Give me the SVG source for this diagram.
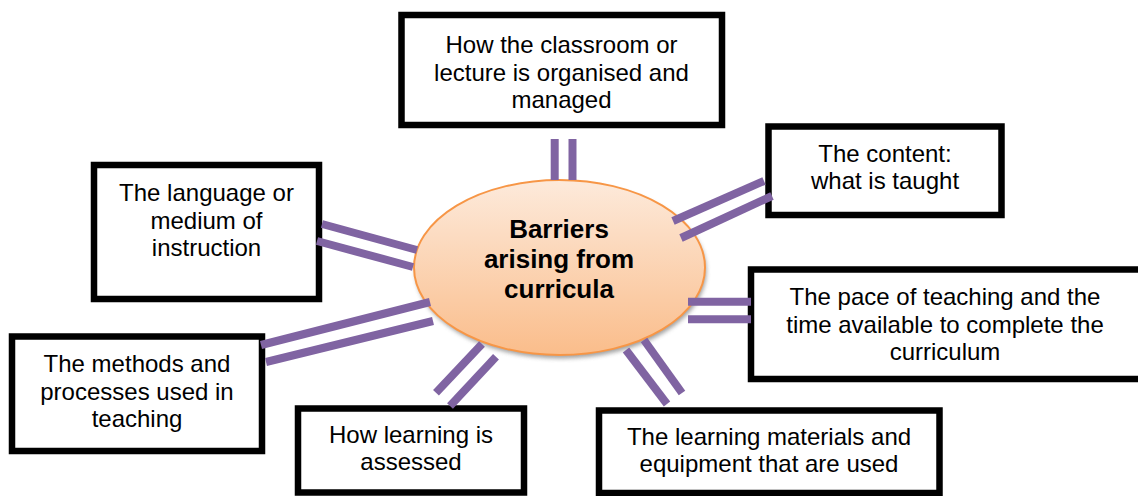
<svg xmlns="http://www.w3.org/2000/svg" width="1138" height="496" viewBox="0 0 1138 496">
<defs>
<linearGradient id="g" x1="0" y1="0" x2="0" y2="1">
<stop offset="0" stop-color="#fdeadb"/>
<stop offset="1" stop-color="#fabd8b"/>
</linearGradient>
<filter id="sh" x="-10%" y="-10%" width="120%" height="130%">
<feGaussianBlur stdDeviation="2"/>
</filter>
<style>
.box{fill:#fff;stroke:#000;stroke-width:6.5}
.t{font-family:"Liberation Sans",Arial,sans-serif;font-size:24px;fill:#000;text-anchor:middle}
.b{font-family:"Liberation Sans",Arial,sans-serif;font-size:26px;font-weight:bold;fill:#000;text-anchor:middle}
.c{stroke:#8064a2;stroke-width:8;fill:none}
</style>
</defs>
<rect width="1138" height="496" fill="#fff"/>

<g id="center">
<ellipse cx="561" cy="271" rx="145.5" ry="87.5" fill="#8a8a8a" filter="url(#sh)" opacity="0.8"/>
<ellipse cx="559.5" cy="267.5" rx="145.5" ry="87.5" fill="url(#g)" stroke="#f79646" stroke-width="2"/>
<text class="b" x="559" y="238">Barriers</text>
<text class="b" x="559" y="268">arising from</text>
<text class="b" x="559" y="298">curricula</text>
</g>

<g id="n-classroom">
<rect class="box" x="401.5" y="15" width="320.5" height="110"/>
<text class="t" x="561.5" y="53">How the classroom or</text>
<text class="t" x="561.5" y="80.5">lecture is organised and</text>
<text class="t" x="561.5" y="108">managed</text>
</g>

<g id="n-language">
<rect class="box" x="94" y="165" width="225" height="134"/>
<text class="t" x="206.5" y="200.5">The language or</text>
<text class="t" x="206.5" y="228.5">medium of</text>
<text class="t" x="206.5" y="256">instruction</text>
</g>

<g id="n-content">
<rect class="box" x="768.5" y="126.5" width="233" height="88.5"/>
<text class="t" x="885" y="162">The content:</text>
<text class="t" x="885" y="188.5">what is taught</text>
</g>

<g id="n-pace">
<rect class="box" x="751" y="269.5" width="392" height="109.5"/>
<text class="t" x="945" y="305">The pace of teaching and the</text>
<text class="t" x="945" y="332.5">time available to complete the</text>
<text class="t" x="945" y="360">curriculum</text>
</g>

<g id="n-methods">
<rect class="box" x="12" y="336.5" width="250" height="114.5"/>
<text class="t" x="137" y="372">The methods and</text>
<text class="t" x="137" y="399.5">processes used in</text>
<text class="t" x="137" y="427">teaching</text>
</g>

<g id="n-assessed">
<rect class="box" x="298" y="408.5" width="226" height="84"/>
<text class="t" x="411" y="443">How learning is</text>
<text class="t" x="411" y="469.5">assessed</text>
</g>

<g id="n-materials">
<rect class="box" x="599" y="410.5" width="340.5" height="82.5"/>
<text class="t" x="769" y="445">The learning materials and</text>
<text class="t" x="769" y="472">equipment that are used</text>
</g>

<g id="connectors">
<line class="c" x1="554.7" y1="139" x2="554.7" y2="180"/>
<line class="c" x1="572.5" y1="139" x2="572.5" y2="180"/>
<line class="c" x1="322" y1="224" x2="417" y2="250"/>
<line class="c" x1="317" y1="241" x2="413" y2="267"/>
<line class="c" x1="673" y1="221" x2="764" y2="181"/>
<line class="c" x1="681" y1="238" x2="772" y2="196"/>
<line class="c" x1="688" y1="301.7" x2="751" y2="301.7"/>
<line class="c" x1="688" y1="319.3" x2="751" y2="319.3"/>
<line class="c" x1="261" y1="345" x2="430" y2="302"/>
<line class="c" x1="266" y1="362" x2="433" y2="321"/>
<line class="c" x1="436" y1="392.7" x2="482" y2="344"/>
<line class="c" x1="450" y1="406" x2="496" y2="356.7"/>
<line class="c" x1="626" y1="350" x2="667" y2="404"/>
<line class="c" x1="644" y1="340" x2="682" y2="393"/>
</g>
</svg>
